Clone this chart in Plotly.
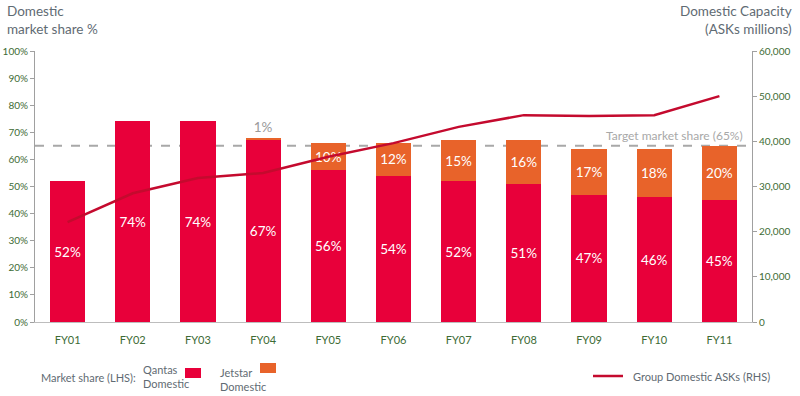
import plotly.graph_objects as go

categories = ["FY01", "FY02", "FY03", "FY04", "FY05", "FY06", "FY07", "FY08", "FY09", "FY10", "FY11"]
qantas_share = [52, 74, 74, 67, 56, 54, 52, 51, 47, 46, 45]
jetstar_share = [0, 0, 0, 1, 10, 12, 15, 16, 17, 18, 20]
group_asks = [22100, 28500, 31900, 33000, 36600, 39600, 43200, 45800, 45600, 45800, 50000]
target_share = 65
left_ticks = list(range(0, 101, 10))
right_ticks = list(range(0, 60001, 10000))

RED = "#E8003A"
ORANGE = "#E8632A"
LINE = "#C40A2E"
TICK = "#3D6B35"
GREY = "#5F6B73"
FONT = "Lato"

fig = go.Figure()

fig.add_trace(go.Bar(
    x=categories, y=qantas_share, name="Qantas Domestic",
    marker=dict(color=RED, line=dict(width=0)),
    text=[f"{v}%" for v in qantas_share], textposition="inside",
    insidetextanchor="middle", constraintext="none",
    textfont=dict(color="white", size=13.5, family=FONT),
    width=0.54, yaxis="y", hoverinfo="skip",
))
fig.add_trace(go.Bar(
    x=categories, y=jetstar_share, name="Jetstar Domestic",
    marker=dict(color=ORANGE, line=dict(width=0)),
    text=[("" if v == 0 else f"{v}%") for v in jetstar_share],
    textposition=["outside" if v < 5 else "inside" for v in jetstar_share],
    insidetextanchor="middle", constraintext="none", cliponaxis=False,
    insidetextfont=dict(color="white", size=13.5, family=FONT),
    outsidetextfont=dict(color="#9A9A9A", size=13.5, family=FONT),
    width=0.54, yaxis="y", hoverinfo="skip",
))
fig.add_trace(go.Scatter(
    x=categories, y=group_asks, mode="lines", name="Group Domestic ASKs (RHS)",
    line=dict(color=LINE, width=2.5), yaxis="y2", hoverinfo="skip",
))

fig.add_shape(type="line", xref="paper", yref="y", x0=0, x1=1, y0=target_share, y1=target_share,
              line=dict(color="#A8A8A8", width=2, dash="dash"), layer="below")
fig.add_annotation(xref="paper", yref="y", x=0.99, y=target_share, text="Target market share (65%)",
                   showarrow=False, xanchor="right", yanchor="bottom", yshift=1,
                   font=dict(color="#A8A8A8", size=12, family=FONT))

# Titles
fig.add_annotation(xref="paper", yref="paper", x=-30/717, y=1.0, xanchor="left", yanchor="bottom",
                   yshift=12, align="left", showarrow=False,
                   text="Domestic<br>market share %", font=dict(color=GREY, size=13.5, family=FONT))
fig.add_annotation(xref="paper", yref="paper", x=(794-35)/717, y=1.0, xanchor="right", yanchor="bottom",
                   yshift=12, align="right", showarrow=False,
                   text="Domestic Capacity<br>(ASKs millions)", font=dict(color=GREY, size=13.5, family=FONT))

# Custom legend
def px_x(x):
    return (x - 35) / 717
def px_y(y):
    return (322 - y) / 271

fig.add_annotation(xref="paper", yref="paper", x=px_x(39), y=px_y(377), xanchor="left", yanchor="middle",
                   showarrow=False, text="Market share (LHS):", font=dict(color=GREY, size=11, family=FONT))
fig.add_annotation(xref="paper", yref="paper", x=px_x(141), y=px_y(376), xanchor="left", yanchor="middle",
                   showarrow=False, align="left", text="Qantas<br>Domestic", font=dict(color=GREY, size=11, family=FONT))
fig.add_shape(type="rect", xref="paper", yref="paper", x0=px_x(185), x1=px_x(201), y0=px_y(378), y1=px_y(368),
              fillcolor=RED, line=dict(width=0))
fig.add_annotation(xref="paper", yref="paper", x=px_x(218), y=px_y(379), xanchor="left", yanchor="middle",
                   showarrow=False, align="left", text="Jetstar<br>Domestic", font=dict(color=GREY, size=11, family=FONT))
fig.add_shape(type="rect", xref="paper", yref="paper", x0=px_x(260), x1=px_x(276), y0=px_y(373), y1=px_y(363),
              fillcolor=ORANGE, line=dict(width=0))
fig.add_shape(type="line", xref="paper", yref="paper", x0=px_x(593), x1=px_x(623), y0=px_y(376), y1=px_y(376),
              line=dict(color=LINE, width=2.5))
fig.add_annotation(xref="paper", yref="paper", x=px_x(631), y=px_y(376), xanchor="left", yanchor="middle",
                   showarrow=False, text="Group Domestic ASKs (RHS)", font=dict(color=GREY, size=11, family=FONT))

fig.update_layout(
    width=800, height=396,
    margin=dict(l=35, r=48, t=51, b=74, autoexpand=False),
    paper_bgcolor="white", plot_bgcolor="white",
    barmode="stack", showlegend=False,
    font=dict(family=FONT),
    xaxis=dict(
        type="category", range=[-0.5, 10.5], showgrid=False, automargin=False,
        showline=True, linecolor="#BDBDBD", linewidth=1, ticks="",
        tickfont=dict(color=TICK, size=11, family=FONT), ticklabelstandoff=8,
    ),
    yaxis=dict(
        range=[0, 100], tickvals=left_ticks, ticktext=[f"{v}%" for v in left_ticks],
        showgrid=False, zeroline=False, showline=True, linecolor="#A0A0A0", linewidth=1,
        ticks="outside", ticklen=4, tickcolor="#A0A0A0", automargin=False,
        tickfont=dict(color=TICK, size=10, family=FONT),
    ),
    yaxis2=dict(
        range=[0, 60000], tickvals=right_ticks, tickformat=",d", overlaying="y", side="right",
        showgrid=False, zeroline=False, showline=True, linecolor="#A0A0A0", linewidth=1,
        ticks="outside", ticklen=4, tickcolor="#A0A0A0", automargin=False,
        tickfont=dict(color=TICK, size=10, family=FONT),
    ),
)

fig.write_html("out.html", config={"displayModeBar": False},
               post_script="document.body.style.margin='0';document.body.style.overflow='hidden';")
